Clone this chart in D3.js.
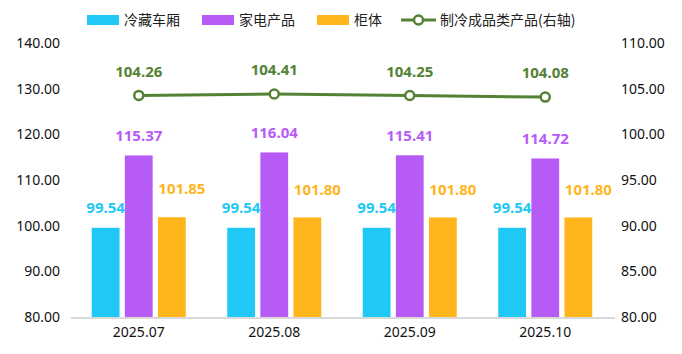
<!DOCTYPE html>
<html>
<head>
<meta charset="utf-8">
<script src="https://cdn.jsdelivr.net/npm/d3@7"></script>
<style>
  body { margin: 0; background: #fff; }
  text { font-family: "Noto Sans", "Noto Sans CJK SC", sans-serif; }
</style>
</head>
<body>
<script>
const width = 682
const height = 354

const months = ['2025.07', '2025.08', '2025.09', '2025.10']
const seriesNames = ['冷藏车厢', '家电产品', '柜体']
const coldBox = [99.54, 99.54, 99.54, 99.54]
const appliance = [115.37, 116.04, 115.41, 114.72]
const cabinet = [101.85, 101.80, 101.80, 101.80]
const lineName = '制冷成品类产品(右轴)'
const refrigProducts = [104.26, 104.41, 104.25, 104.08]
const leftTicks = [80, 90, 100, 110, 120, 130, 140]
const rightTicks = [80, 85, 90, 95, 100, 105, 110]

const colors = ['#1fc8f5', '#b75bf7', '#ffb51c']
const lineColor = '#548235'
// label nudges per series: [dx, dy above bar top]
const labelNudge = [[0, 20], [0, 20], [10, 28]]

const bars = [coldBox, appliance, cabinet]

const svg = d3.select('body')
  .append('svg')
  .attr('width', width)
  .attr('height', height)

const x = d3.scaleBand()
  .domain(months)
  .range([71, 613])
  .paddingInner(0.306)
  .paddingOuter(0.153)

const xs = d3.scaleBand()
  .domain(d3.range(seriesNames.length))
  .range([0, x.bandwidth()])
  .paddingInner(0.16)

const yL = d3.scaleLinear().domain([80, 140]).range([317, 43])
const yR = d3.scaleLinear().domain([80, 110]).range([317, 43])

/* ------- AXES ------- */
const leftAxis = svg.append('g')
  .attr('transform', 'translate(66,0)')
  .call(d3.axisLeft(yL).tickValues(leftTicks).tickSize(0).tickPadding(6).tickFormat(d3.format('.2f')))
leftAxis.select('.domain').remove()

const rightAxis = svg.append('g')
  .attr('transform', 'translate(615,0)')
  .call(d3.axisRight(yR).tickValues(rightTicks).tickSize(0).tickPadding(6).tickFormat(d3.format('.2f')))
rightAxis.select('.domain').remove()

svg.selectAll('.tick text')
  .attr('font-size', 14)
  .attr('fill', '#111')
  .style('font-family', '"Noto Sans", sans-serif')

/* ------- BARS ------- */
bars.forEach((vals, si) => {
  const g = svg.append('g')
  g.selectAll('rect')
    .data(vals)
    .enter()
    .append('rect')
    .attr('x', (d, i) => x(months[i]) + xs(si))
    .attr('y', d => yL(d))
    .attr('width', xs.bandwidth())
    .attr('height', d => yL(80) - yL(d))
    .attr('fill', colors[si])

  g.selectAll('text')
    .data(vals)
    .enter()
    .append('text')
    .attr('x', (d, i) => x(months[i]) + xs(si) + xs.bandwidth() / 2 + labelNudge[si][0])
    .attr('y', d => yL(d) - labelNudge[si][1])
    .attr('dy', '0.35em')
    .attr('text-anchor', 'middle')
    .attr('font-size', 15)
    .attr('font-weight', 'bold')
    .attr('fill', colors[si])
    .text(d => d.toFixed(2))
})

/* ------- X AXIS ------- */
svg.append('line')
  .attr('x1', 71).attr('x2', 615)
  .attr('y1', 318).attr('y2', 318)
  .attr('stroke', '#d9d9d9')
  .attr('stroke-width', 2)

const bottomAxis = svg.append('g')
  .attr('transform', 'translate(0,318)')
  .call(d3.axisBottom(x).tickSize(0).tickPadding(9))
bottomAxis.select('.domain').remove()
bottomAxis.selectAll('text')
  .attr('font-size', 14)
  .attr('fill', '#111')

/* ------- LINE ------- */
const cx = (d, i) => x(months[i]) + x.bandwidth() / 2
const line = d3.line()
  .x(cx)
  .y(d => yR(d))

svg.append('path')
  .datum(refrigProducts)
  .attr('d', line)
  .attr('fill', 'none')
  .attr('stroke', lineColor)
  .attr('stroke-width', 3)

svg.append('g')
  .selectAll('circle')
  .data(refrigProducts)
  .enter()
  .append('circle')
  .attr('cx', cx)
  .attr('cy', d => yR(d))
  .attr('r', 4.5)
  .attr('fill', '#fff')
  .attr('stroke', lineColor)
  .attr('stroke-width', 2.5)

svg.append('g')
  .selectAll('text')
  .data(refrigProducts)
  .enter()
  .append('text')
  .attr('x', cx)
  .attr('y', d => yR(d) - 24)
  .attr('dy', '0.35em')
  .attr('text-anchor', 'middle')
  .attr('font-size', 15)
  .attr('font-weight', 'bold')
  .attr('fill', lineColor)
  .text(d => d.toFixed(2))

/* ------- LEGEND ------- */
const legend = svg.append('g').attr('transform', 'translate(0,20)')
const legendX = [87, 202, 317]
seriesNames.forEach((name, i) => {
  legend.append('rect')
    .attr('x', legendX[i]).attr('y', -5)
    .attr('width', 32).attr('height', 10)
    .attr('fill', colors[i])
  legend.append('text')
    .attr('x', legendX[i] + 37).attr('y', 0)
    .attr('dy', '0.35em')
    .attr('font-size', 14)
    .attr('fill', '#222')
    .style('font-family', '"Noto Sans CJK SC", sans-serif')
    .text(name)
})
legend.append('line')
  .attr('x1', 401).attr('x2', 436)
  .attr('y1', 0).attr('y2', 0)
  .attr('stroke', lineColor)
  .attr('stroke-width', 3)
legend.append('circle')
  .attr('cx', 418.5).attr('cy', 0).attr('r', 4.5)
  .attr('fill', '#fff')
  .attr('stroke', lineColor)
  .attr('stroke-width', 2.5)
legend.append('text')
  .attr('x', 440).attr('y', 0)
  .attr('dy', '0.35em')
  .attr('font-size', 14)
  .attr('fill', '#222')
  .style('font-family', '"Noto Sans CJK SC", sans-serif')
  .text(lineName)
</script>
</body>
</html>
